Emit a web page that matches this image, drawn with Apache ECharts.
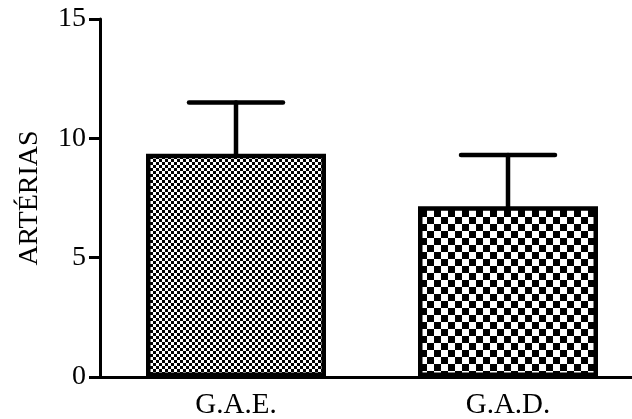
<!DOCTYPE html>
<html>
<head>
<meta charset="utf-8">
<script src="https://cdn.jsdelivr.net/npm/echarts@6/dist/echarts.min.js"></script>
<style>
html,body{margin:0;padding:0;background:#fff;}
#chart{width:632px;height:419px;}
</style>
</head>
<body>
<div id="chart"></div>
<script>
// Data
const categories = ['G.A.E.', 'G.A.D.'];
const means = [9.35, 7.15];
const errors = [2.15, 2.15];
const yTicks = [0, 5, 10, 15];
const yAxisTitle = 'ARTÉRIAS';

function checker(size) {
  const c = document.createElement('canvas');
  c.width = size * 2; c.height = size * 2;
  const ctx = c.getContext('2d');
  ctx.fillStyle = '#ffffff';
  ctx.fillRect(0, 0, size * 2, size * 2);
  ctx.fillStyle = '#000000';
  ctx.fillRect(0, 0, size, size);
  ctx.fillRect(size, size, size, size);
  return c;
}
const patterns = [checker(3), checker(7)];

const font = '"Liberation Serif", "Times New Roman", serif';
const chart = echarts.init(document.getElementById('chart'), null, {renderer: 'canvas'});

chart.setOption({
  animation: false,
  backgroundColor: '#ffffff',
  grid: {left: 100, right: -12, top: 19, bottom: 42, containLabel: false, outerBoundsMode: 'none'},
  xAxis: {
    type: 'category',
    data: categories,
    axisLine: {lineStyle: {color: '#000', width: 3}},
    axisTick: {alignWithLabel: true, length: 9, lineStyle: {color: '#000', width: 3}},
    axisLabel: {fontFamily: font, fontSize: 29, color: '#000', margin: 14}
  },
  yAxis: {
    type: 'value',
    min: 0, max: 15, interval: 5,
    name: yAxisTitle,
    nameLocation: 'middle',
    nameGap: 56,
    nameTextStyle: {fontFamily: font, fontSize: 28, color: '#000'},
    axisLine: {show: true, lineStyle: {color: '#000', width: 3}},
    axisTick: {show: true, length: 11, lineStyle: {color: '#000', width: 3}},
    axisLabel: {fontFamily: font, fontSize: 28, color: '#000', margin: 14,
      formatter: v => yTicks.includes(v) ? String(v) : ''},
    splitLine: {show: false}
  },
  series: [
    {
      type: 'bar',
      barWidth: 180,
      data: means.map((v, i) => ({
        value: v,
        itemStyle: {color: {image: patterns[i], repeat: 'repeat'}}
      })),
      itemStyle: {borderColor: '#000', borderWidth: 4.5},
      z: 2
    },
    {
      type: 'custom',
      z: 3,
      data: means.map((v, i) => [i, v, v + errors[i]]),
      renderItem: function (params, api) {
        const top = api.coord([api.value(0), api.value(2)]);
        const base = api.coord([api.value(0), api.value(1)]);
        const half = 47;
        const style = {stroke: '#000', lineWidth: 4.5, lineCap: 'round'};
        return {
          type: 'group',
          children: [
            {type: 'line', shape: {x1: top[0], y1: base[1], x2: top[0], y2: top[1]}, style: style},
            {type: 'line', shape: {x1: top[0] - half, y1: top[1], x2: top[0] + half, y2: top[1]}, style: style}
          ]
        };
      }
    }
  ]
});
</script>
</body>
</html>
